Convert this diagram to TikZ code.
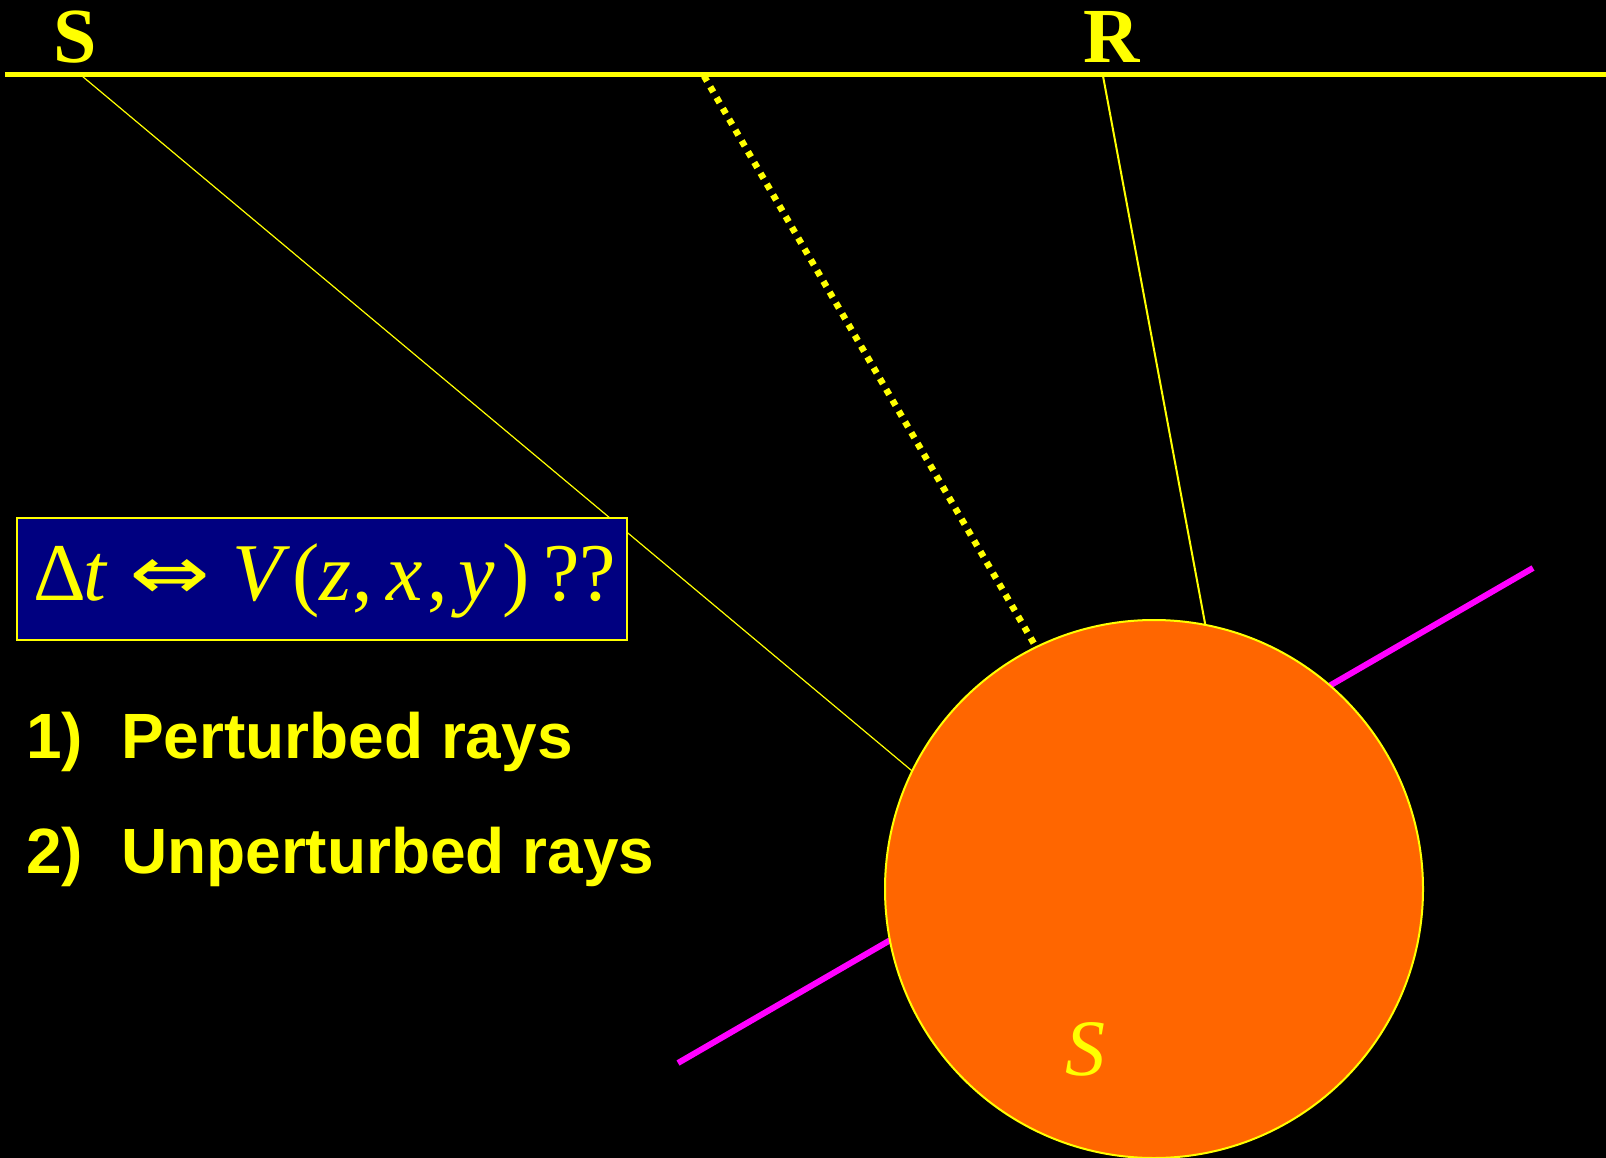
\documentclass[tikz,border=0pt]{standalone}
\usepackage{graphicx}
\usepackage{fontspec}
\setmainfont{Liberation Serif}
\newfontfamily\arialb{Liberation Sans}
\newfontfamily\djv{DejaVu Sans}
\definecolor{sunorange}{RGB}{255,102,0}
\definecolor{boxnavy}{RGB}{0,0,128}
\definecolor{ylw}{RGB}{255,255,0}
\definecolor{mag}{RGB}{255,0,255}
\begin{document}
\begin{tikzpicture}[x=1pt,y=-1pt,
  lbl/.style={text=ylw, inner sep=0pt, outer sep=0pt, anchor=base west},
  eqfont/.style={font=\fontsize{82}{90}\selectfont},
  eqit/.style={font=\fontsize{82}{90}\selectfont\itshape},
  listfont/.style={font=\fontsize{64}{70}\selectfont\arialb\bfseries},
  thinray/.style={draw=ylw, line width=1.2pt},
  rray/.style={draw=ylw, line width=2pt},
  dotray/.style={draw=ylw, line width=6.5pt, dash pattern=on 6pt off 6.5pt},
  surface/.style={draw=ylw, line width=5.5pt},
  magline/.style={draw=mag, line width=6pt}]
\fill[black] (0,0) rectangle (1606,1158);
\useasboundingbox (0,0) rectangle (1606,1158);

% magenta line behind the sphere
\coordinate (m1) at (678,1063);
\coordinate (m2) at (1533,568);
\draw[magline] (m1) -- (m2);

% sphere
\node[circle, fill=sunorange, draw=ylw, line width=2pt, minimum size=538pt,
      inner sep=0pt, outer sep=0pt] (sun) at (1154,889) {};
\node[lbl, font=\fontsize{80}{88}\selectfont\itshape] (slow) at (1065,1075) {S};

% rays
\coordinate (sfoot) at (82,76);
\coordinate (dfoot) at (704,76);
\coordinate (rfoot) at (1103,76);
\draw[thinray] (sfoot) -- (sun.154.4);
\draw[dotray] (dfoot) -- (sun.116);
\draw[rray] (rfoot) -- (sun.79.3);

% surface
\coordinate (hl) at (5,74.5);
\coordinate (hr) at (1606,74.5);
\draw[surface] (hl) -- (hr);
\node[lbl, font=\fontsize{78}{86}\selectfont\bfseries] (slab) at (53,63) {S};
\node[lbl, font=\fontsize{78}{86}\selectfont\bfseries] (rlab) at (1083,63) {R};

% equation box
\node[draw=ylw, fill=boxnavy, line width=2pt, minimum width=610pt, minimum height=122pt,
      inner sep=0pt, outer sep=0pt, anchor=north west] (eqbox) at (17,518) {};
\node[lbl, eqfont] (dlt) at (33,600) {Δ};
\node[lbl, eqit] (tt) at (83,600) {t};
\node[text=ylw, inner sep=0pt, outer sep=0pt, anchor=south west] (arr) at (129,599) {\resizebox{81pt}{40pt}{\djv ⇔}};
\node[lbl, eqit] (vv) at (232,600) {V};
\node[lbl, eqfont] (lp) at (292,600) {(};
\node[lbl, eqit] (zz) at (319,600) {z};
\node[lbl, eqfont] (c1) at (352,600) {,};
\node[lbl, eqit] (xx) at (386,600) {x};
\node[lbl, eqfont] (c2) at (427,600) {,};
\node[lbl, eqit] (yy) at (458,600) {y};
\node[lbl, eqfont] (rp) at (502,600) {)};
\node[lbl, eqfont] (qq) at (543,600) {??};

% list
\node[lbl, listfont] (n1) at (26,758) {1)};
\node[lbl, listfont] (t1) at (121,758) {Perturbed rays};
\node[lbl, listfont] (n2) at (26,873) {2)};
\node[lbl, listfont] (t2) at (121,873) {Unperturbed rays};
\end{tikzpicture}
\end{document}
